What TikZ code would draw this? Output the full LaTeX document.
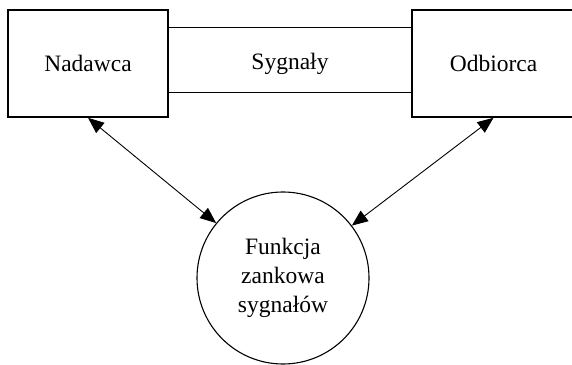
\documentclass[tikz,border=0pt]{standalone}
\usepackage{fontspec}
\setmainfont{Liberation Serif}
\usetikzlibrary{arrows.meta,calc}
\begin{document}
\begin{tikzpicture}[x=1pt,y=1pt,
  every node/.style={font=\fontsize{23.5}{29}\selectfont},
  party/.style={draw, line width=1.6pt, rectangle, minimum height=107pt, inner sep=0pt},
  func/.style={draw, line width=1.1pt, circle, minimum size=172pt, inner sep=0pt, align=center},
  band/.style={line width=0.8pt},
  link/.style={line width=0.9pt, {Triangle[length=16pt,width=13pt]}-{Triangle[length=16pt,width=13pt]}}
]
\useasboundingbox (0,0) rectangle (572,364);
\clip (0,0) rectangle (572,364);

% sender and receiver
\node[party, minimum width=160pt] (nad) at (88,300.5) {Nadawca};
\node[party, minimum width=163pt] (odb) at (493.5,300.5) {Odbiorca};

% signal channel between them
\coordinate (chTL) at ($(nad.north east)+(0,-18)$);
\coordinate (chBL) at ($(nad.south east)+(0,25)$);
\coordinate (chTR) at ($(odb.north west)+(0,-18)$);
\coordinate (chBR) at ($(odb.south west)+(0,25)$);
\draw[band] (chTL) -- (chTR);
\draw[band] (chBL) -- (chBR);
\node (syg) at (290,300) {Sygnały};

% sign function of the signals
\node[func] (fun) at (283,86) {Funkcja\\zankowa\\sygnałów};

% two-way links
\draw[link] (nad.south) -- (fun);
\draw[link] (odb.south) -- (fun);
\end{tikzpicture}
\end{document}
